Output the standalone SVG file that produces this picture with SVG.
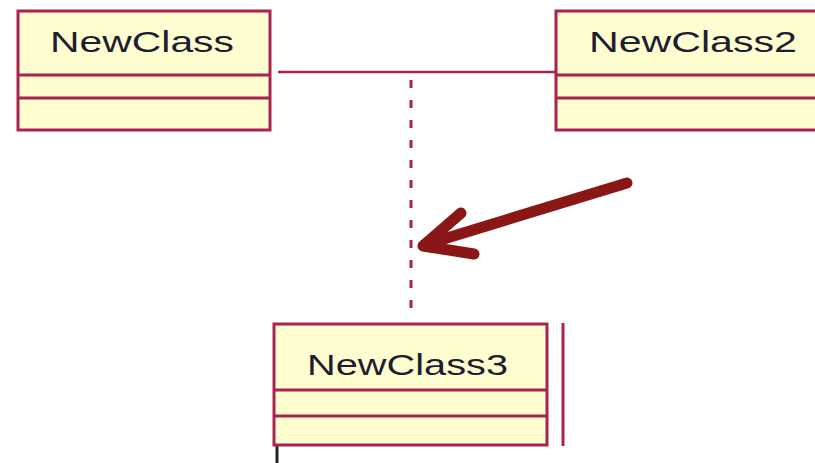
<svg xmlns="http://www.w3.org/2000/svg" width="815" height="463" viewBox="0 0 815 463">
  <style>
    .box { fill: #fefdcf; stroke: #a8234f; stroke-width: 3; }
    .div { stroke: #a8234f; stroke-width: 3; fill: none; }
    .name { font-family: "Liberation Sans", Arial, sans-serif; font-size: 30px; fill: #1e1e33; }
    .link { stroke: #a8234f; stroke-width: 2.5; fill: none; }
    .dash { stroke: #a8234f; stroke-width: 3; stroke-dasharray: 8 12; fill: none; }
    .pointer { stroke: #8a1616; stroke-width: 11; fill: none; stroke-linecap: round; stroke-linejoin: round; }
  </style>
  <rect width="815" height="463" fill="#ffffff"/>

  <g id="connectors">
    <line class="link" x1="278" y1="72" x2="556" y2="72"/>
    <line class="dash" x1="411" y1="80" x2="411" y2="314"/>
    <line class="div" x1="563" y1="323" x2="563" y2="446"/>
    <line x1="277" y1="446" x2="277" y2="463" stroke="#222222" stroke-width="3"/>
  </g>

  <g id="NewClass">
    <rect class="box" x="18" y="11" width="252" height="119"/>
    <line class="div" x1="18" y1="75" x2="270" y2="75"/>
    <line class="div" x1="18" y1="98" x2="270" y2="98"/>
    <text class="name" x="50" y="52" textLength="184" lengthAdjust="spacingAndGlyphs">NewClass</text>
  </g>

  <g id="NewClass2">
    <rect class="box" x="556" y="11" width="270" height="119"/>
    <line class="div" x1="556" y1="75" x2="826" y2="75"/>
    <line class="div" x1="556" y1="98" x2="826" y2="98"/>
    <text class="name" x="589" y="52" textLength="208" lengthAdjust="spacingAndGlyphs">NewClass2</text>
  </g>

  <g id="NewClass3">
    <rect class="box" x="274" y="324" width="273" height="121"/>
    <line class="div" x1="274" y1="390" x2="547" y2="390"/>
    <line class="div" x1="274" y1="416" x2="547" y2="416"/>
    <text class="name" x="307" y="375" textLength="201" lengthAdjust="spacingAndGlyphs">NewClass3</text>
  </g>

  <g id="pointer">
    <line class="pointer" x1="627" y1="183" x2="424" y2="245"/>
    <polyline class="pointer" points="461,213 423,246 474,254"/>
  </g>
</svg>
